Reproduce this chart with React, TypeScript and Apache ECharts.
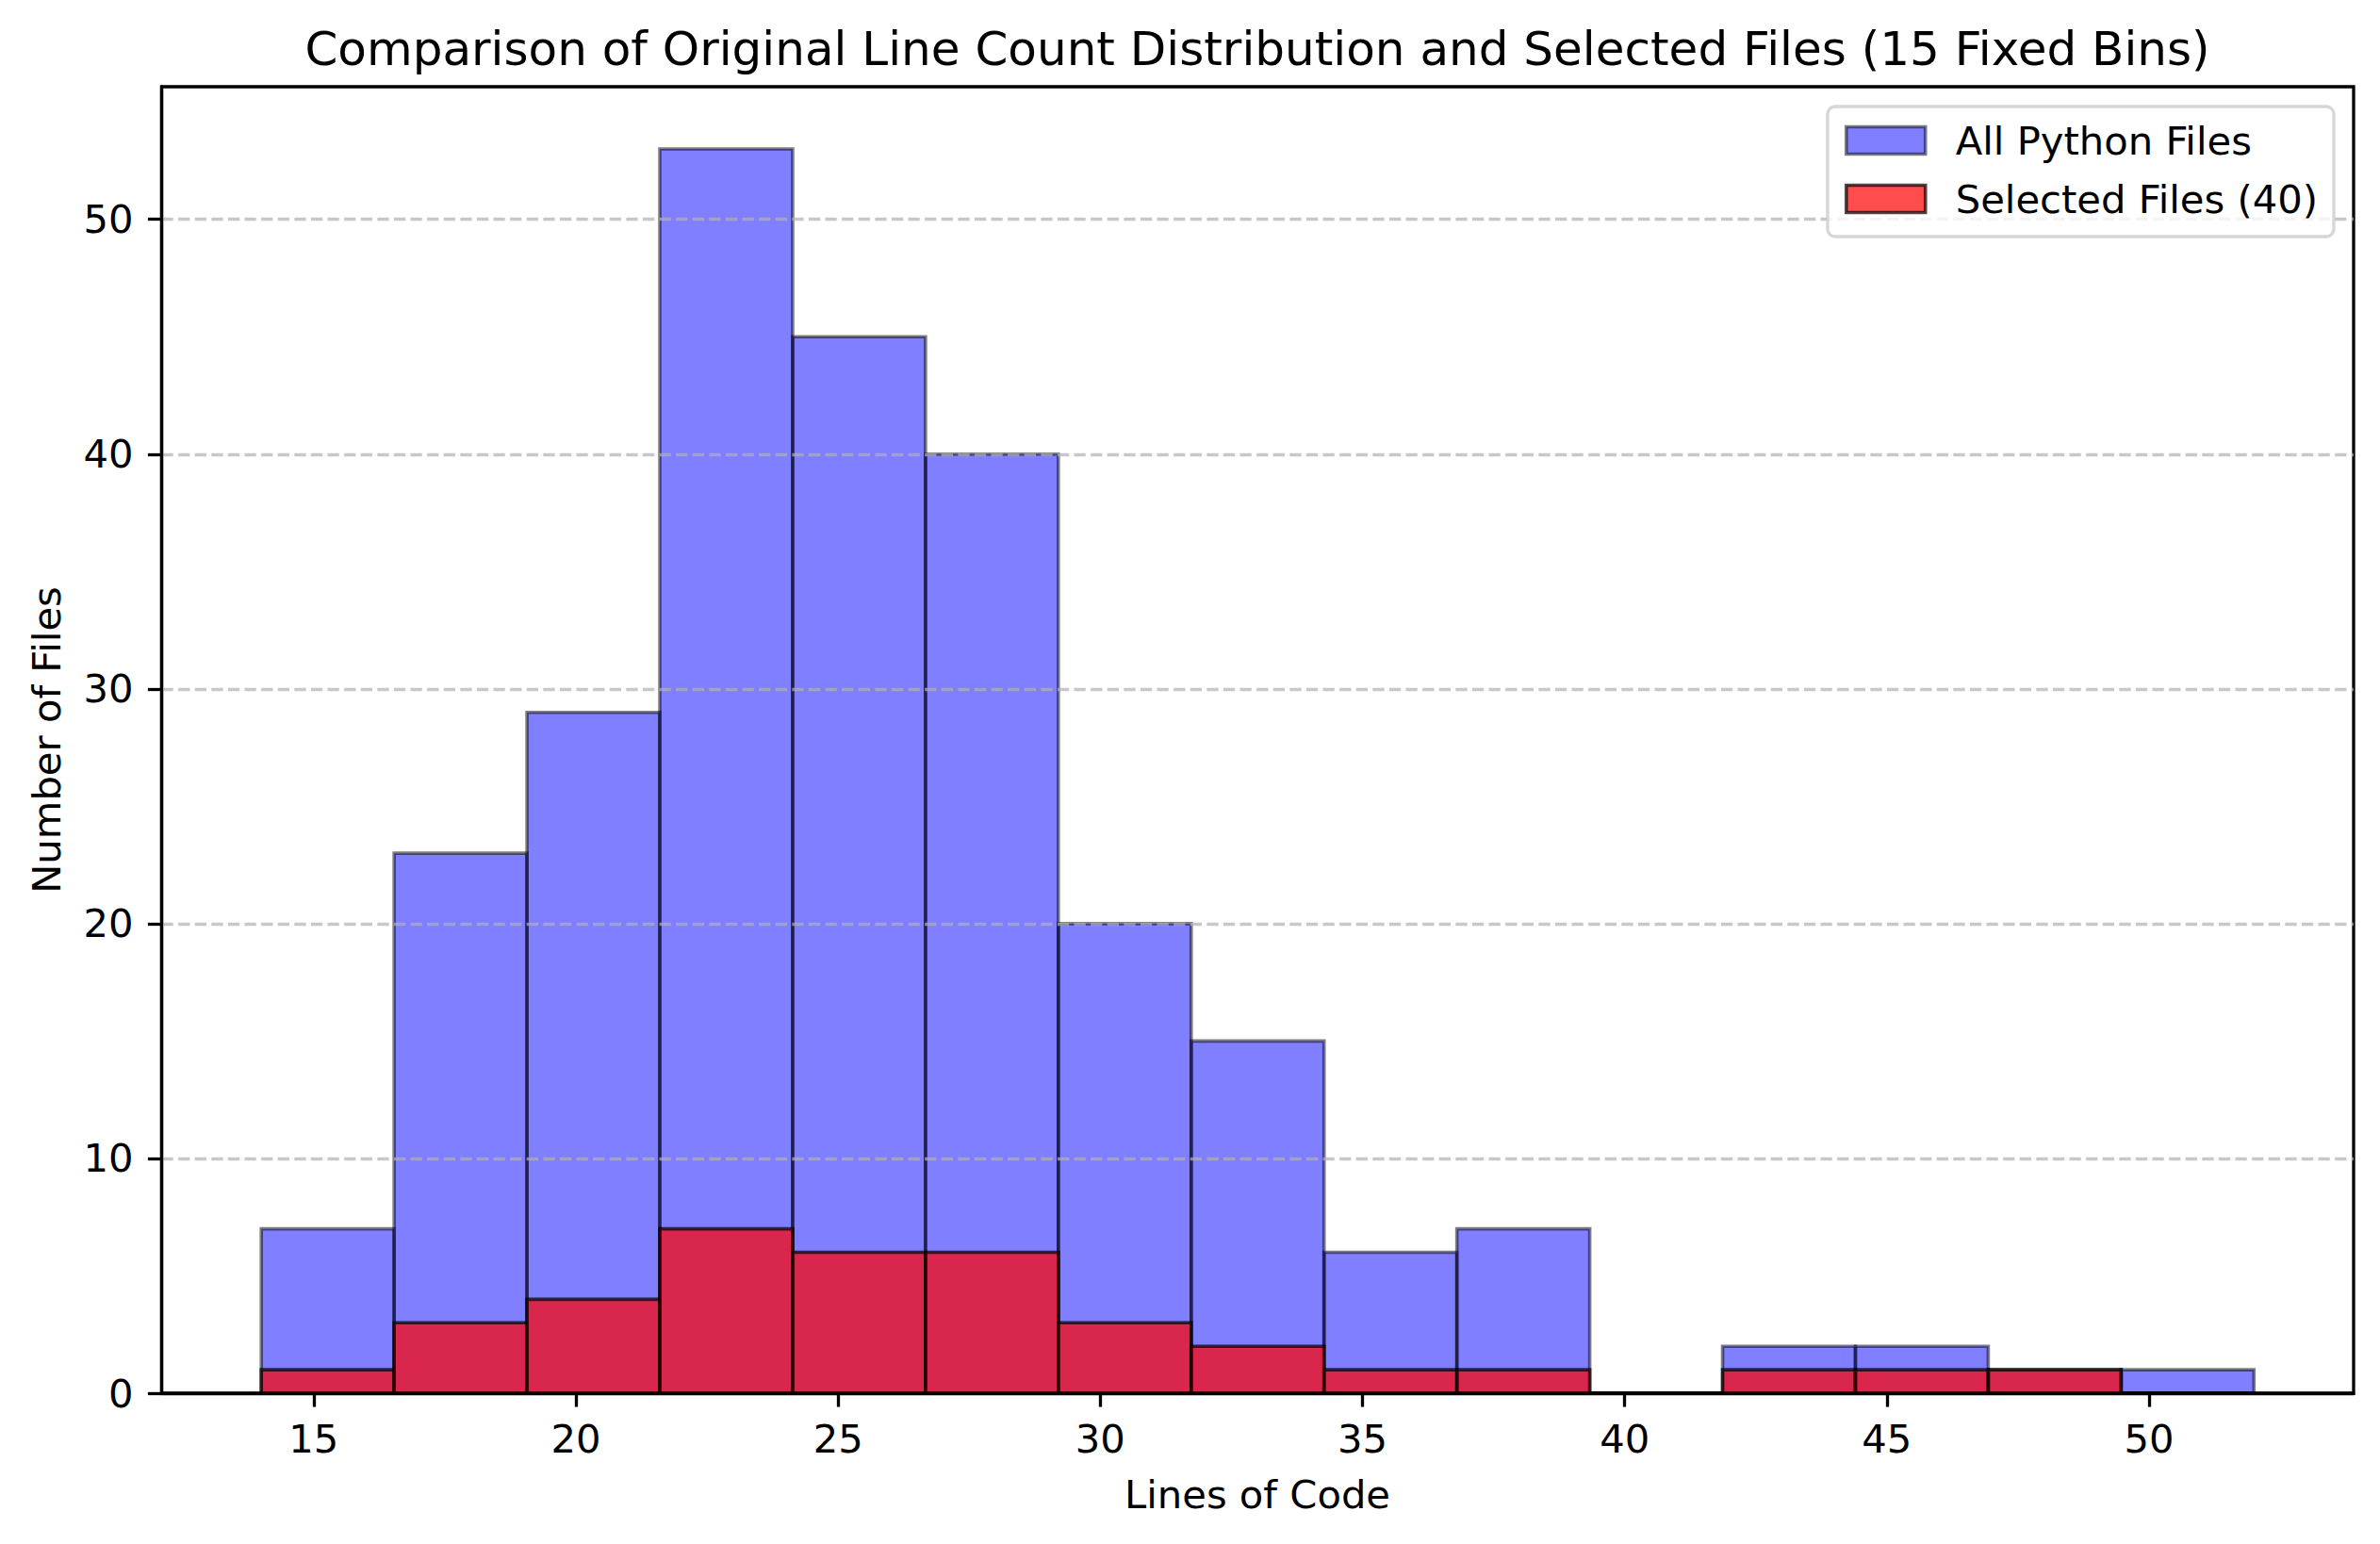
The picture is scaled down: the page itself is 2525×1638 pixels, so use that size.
import React, { useEffect, useRef } from "react";
import * as echarts from "echarts";

// ---- data ----
const binStart = 14;
const binEnd = 52;
const binCount = 15;
const allCounts = [7, 23, 29, 53, 45, 40, 20, 15, 6, 7, 0, 2, 2, 1, 1];
const selectedCounts = [1, 3, 4, 7, 6, 6, 3, 2, 1, 1, 0, 1, 1, 1, 0];
const xTicks = [15, 20, 25, 30, 35, 40, 45, 50];
const yTicks = [0, 10, 20, 30, 40, 50];
const gridValues = [10, 20, 30, 40, 50];

const titleText = "Comparison of Original Line Count Distribution and Selected Files (15 Fixed Bins)";
const xName = "Lines of Code";
const yName = "Number of Files";
const allName = "All Python Files";
const selName = "Selected Files (40)";

const FONT = "'DejaVu Sans', sans-serif";
const FS = 41.7;

function binData(counts: number[]) {
  const w = (binEnd - binStart) / binCount;
  return counts.map((c, i) => [binStart + i * w, binStart + (i + 1) * w, c]);
}

function makeRender(fill: string, stroke: string) {
  return (params: any, api: any) => {
    const x0 = api.value(0);
    const x1 = api.value(1);
    const v = api.value(2);
    const p0 = api.coord([x0, v]);
    const p1 = api.coord([x1, 0]);
    return {
      type: "rect",
      shape: { x: p0[0], y: p0[1], width: p1[0] - p0[0], height: p1[1] - p0[1] },
      style: { fill, stroke, lineWidth: 3.6 },
    };
  };
}

export default function App() {
  const ref = useRef<HTMLDivElement>(null);
  useEffect(() => {
    document.body.style.margin = "0";
    const chart = echarts.init(ref.current!, undefined, { renderer: "svg" });
    const blueFill = "rgba(0,0,255,0.5)";
    const blueEdge = "rgba(0,0,0,0.5)";
    const redFill = "rgba(255,0,0,0.7)";
    const redEdge = "rgba(0,0,0,0.7)";
    const option: any = {
      animation: false,
      backgroundColor: "#ffffff",
      textStyle: { fontFamily: FONT },
      grid: {
        left: 171.5,
        top: 92,
        width: 2325.5,
        height: 1386,
        show: true,
        borderColor: "#000",
        borderWidth: 3.3,
        backgroundColor: "transparent",
      },
      xAxis: {
        type: "value",
        min: 12.1,
        max: 53.9,
        z: 10,
        axisLine: { show: true, onZero: false, lineStyle: { color: "#000", width: 3.3 } },
        axisTick: {
          show: true,
          inside: false,
          length: 14.6,
          lineStyle: { color: "#000", width: 3.3 },
          customValues: xTicks,
        },
        axisLabel: {
          show: true,
          margin: 27,
          fontSize: FS,
          lineHeight: 42,
          fontFamily: FONT,
          color: "#000",
          customValues: xTicks,
          formatter: (v: number) => String(v),
        },
        splitLine: { show: false },
      },
      yAxis: {
        type: "value",
        min: 0,
        max: 55.65,
        z: 10,
        axisLine: { show: true, lineStyle: { color: "#000", width: 3.3 } },
        axisTick: {
          show: true,
          inside: false,
          length: 14.6,
          lineStyle: { color: "#000", width: 3.3 },
          customValues: yTicks,
        },
        axisLabel: {
          show: true,
          margin: 30,
          fontSize: FS,
          lineHeight: 42,
          fontFamily: FONT,
          color: "#000",
          customValues: yTicks,
          formatter: (v: number) => String(v),
        },
        splitLine: { show: false },
      },
      legend: {
        orient: "vertical",
        right: 49,
        top: 113,
        itemWidth: 84,
        itemHeight: 29,
        itemGap: 20,
        padding: [15, 17, 19, 18],
        backgroundColor: "rgba(255,255,255,0.8)",
        borderColor: "rgba(204,204,204,0.8)",
        borderWidth: 3.3,
        borderRadius: 8,
        icon: "rect",
        textStyle: {
          fontFamily: FONT,
          fontSize: FS,
          lineHeight: 42,
          color: "#000",
          padding: [0, 0, 0, 27],
        },
        data: [
          { name: allName, icon: "rect", itemStyle: { color: blueFill, borderColor: blueEdge, borderWidth: 3.6 } },
          { name: selName, icon: "rect", itemStyle: { color: redFill, borderColor: redEdge, borderWidth: 3.6 } },
        ],
        z: 20,
      },
      graphic: [
        {
          type: "text",
          x: 1334,
          y: 52,
          z: 30,
          style: {
            text: titleText,
            fontFamily: FONT,
            fontSize: 50,
            fill: "#000",
            align: "center",
            verticalAlign: "middle",
          },
        },
        {
          type: "text",
          x: 1334,
          y: 1585,
          z: 30,
          style: {
            text: xName,
            fontFamily: FONT,
            fontSize: FS,
            fill: "#000",
            align: "center",
            verticalAlign: "middle",
          },
        },
        {
          type: "text",
          x: 49,
          y: 785,
          rotation: Math.PI / 2,
          z: 30,
          style: {
            text: yName,
            fontFamily: FONT,
            fontSize: FS,
            fill: "#000",
            align: "center",
            verticalAlign: "middle",
          },
        },
      ],
      series: [
        {
          name: allName,
          type: "custom",
          z: 2,
          itemStyle: { color: blueFill, borderColor: blueEdge },
          encode: { x: [0, 1], y: 2 },
          data: binData(allCounts),
          renderItem: makeRender(blueFill, blueEdge),
        },
        {
          name: selName,
          type: "custom",
          z: 3,
          itemStyle: { color: redFill, borderColor: redEdge },
          encode: { x: [0, 1], y: 2 },
          data: binData(selectedCounts),
          renderItem: makeRender(redFill, redEdge),
          markLine: {
            silent: true,
            symbol: ["none", "none"],
            z: 6,
            label: { show: false },
            lineStyle: { color: "rgba(176,176,176,0.7)", width: 3.3, type: [12.3, 5.3] },
            emphasis: { disabled: true },
            data: gridValues.map((v) => ({ yAxis: v })),
          },
        },
      ],
    };
    chart.setOption(option);
    return () => chart.dispose();
  }, []);
  return <div ref={ref} style={{ width: 2525, height: 1638 }} />;
}
